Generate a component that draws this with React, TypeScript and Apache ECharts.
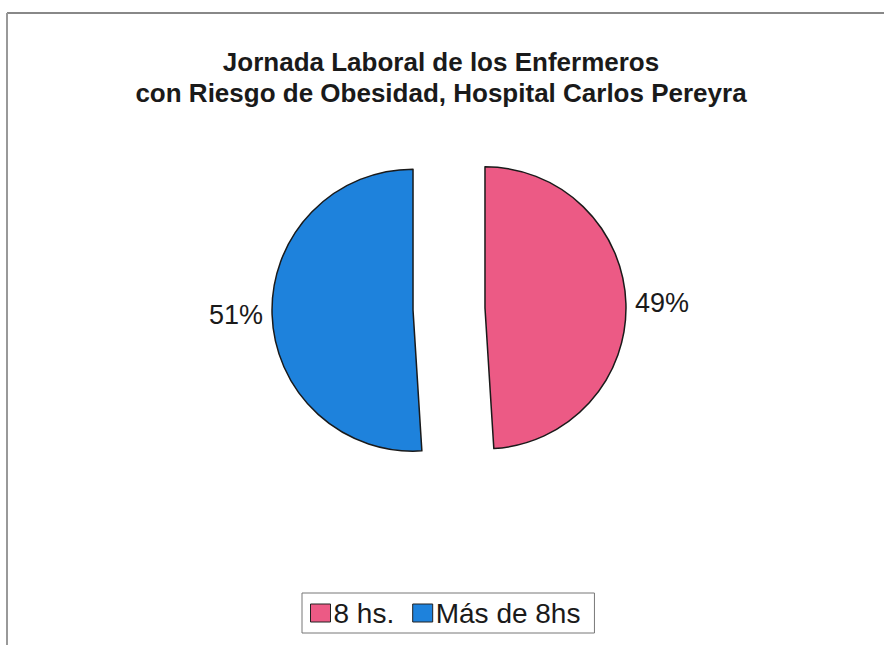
import React, { useEffect, useRef } from "react";
import * as echarts from "echarts";

const titleLines = ["Jornada Laboral de los Enfermeros", "con Riesgo de Obesidad, Hospital Carlos Pereyra"];
const categories = ["8 hs.", "Más de 8hs"];
const values = [49, 51];
const colors = ["#EC5A85", "#1E82DC"];

export default function App() {
  const ref = useRef<HTMLDivElement>(null);
  useEffect(() => {
    if (!ref.current) return;
    const chart = echarts.init(ref.current, null, { renderer: "svg" });
    chart.setOption({
      animation: false,
      backgroundColor: "#ffffff",
      title: {
        text: titleLines.join("\n"),
        left: 436,
        textAlign: "center",
        top: 41,
        textStyle: {
          fontFamily: "Liberation Sans, Arial, sans-serif",
          fontSize: 26,
          fontWeight: "bold",
          color: "#1a1a1a",
          lineHeight: 31,
        },
      },
      legend: {
        data: categories,
        left: 302,
        top: 593,
        orient: "horizontal",
        itemWidth: 20,
        itemHeight: 18,
        itemGap: 18,
        padding: [6, 14, 6, 8],
        borderColor: "#777",
        borderWidth: 1,
        borderRadius: 0,
        icon: "rect",
        selectedMode: false,
        itemStyle: { borderColor: "#222", borderWidth: 1 },
        textStyle: {
          fontFamily: "Liberation Sans, Arial, sans-serif",
          fontSize: 28,
          color: "#1a1a1a",
          padding: [0, 0, 0, -2],
        },
      },
      graphic: [
        { type: "line", shape: { x1: 7, y1: 13, x2: 884, y2: 13 }, style: { stroke: "#888", lineWidth: 2 } },
        { type: "line", shape: { x1: 7, y1: 13, x2: 7, y2: 645 }, style: { stroke: "#999", lineWidth: 2 } },
      ],
      series: [
        {
          type: "pie",
          center: [449, 309],
          radius: 141,
          startAngle: 90,
          clockwise: true,
          selectedMode: "multiple",
          selectedOffset: 36,
          emphasis: { disabled: true },
          itemStyle: { borderColor: "#1a1a1a", borderWidth: 1.5 },
          label: {
            show: true,
            position: "outside",
            formatter: "{d}%",
            fontFamily: "Liberation Sans, Arial, sans-serif",
            fontSize: 27,
            color: "#1a1a1a",
          },
          labelLine: { show: false, length: 4, length2: 0 },
          data: categories.map((name, i) => ({
            name,
            value: values[i],
            selected: true,
            itemStyle: { color: colors[i] },
            label: { offset: i === 0 ? [2, -6] : [0, 3] },
          })),
        },
      ],
    });
    return () => chart.dispose();
  }, []);
  return <div ref={ref} style={{ position: "fixed", left: 0, top: 0, width: 884, height: 645 }} />;
}
